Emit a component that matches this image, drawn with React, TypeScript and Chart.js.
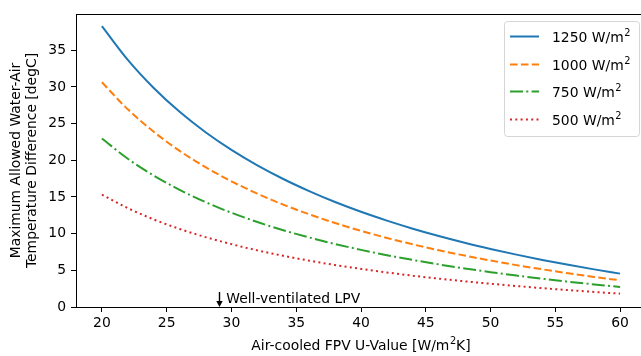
import React, { useEffect, useRef } from 'react';
import { Chart, registerables } from 'chart.js';

Chart.register(...registerables);

// ---------- data ----------
const uValues = [20, 22, 24, 26, 28, 30, 32, 34, 36, 38, 40, 42, 44, 46, 48, 50, 52, 54, 56, 58, 60];
const series1250 = [38.3, 33.69, 29.86, 26.61, 23.83, 21.42, 19.31, 17.45, 15.8, 14.31, 12.98, 11.78, 10.68, 9.68, 8.76, 7.92, 7.14, 6.42, 5.75, 5.13, 4.55];
const series1000 = [30.64, 26.95, 23.89, 21.29, 19.06, 17.14, 15.45, 13.96, 12.64, 11.45, 10.38, 9.42, 8.54, 7.74, 7.01, 6.34, 5.71, 5.14, 4.6, 4.1, 3.64];
const series750 = [22.98, 20.21, 17.92, 15.97, 14.3, 12.85, 11.59, 10.47, 9.48, 8.59, 7.79, 7.07, 6.41, 5.81, 5.26, 4.75, 4.28, 3.85, 3.45, 3.08, 2.73];
const series500 = [15.32, 13.48, 11.94, 10.64, 9.53, 8.57, 7.72, 6.98, 6.32, 5.72, 5.19, 4.71, 4.27, 3.87, 3.5, 3.17, 2.86, 2.57, 2.3, 2.05, 1.82];
const seriesLabels = ['1250 W/m²', '1000 W/m²', '750 W/m²', '500 W/m²'];
const seriesColors = ['#1f77b4', '#ff7f0e', '#2ca02c', '#d62728'];
const seriesDashes: number[][] = [[], [7.6, 3.3], [13, 3.3, 2, 3.3], [2, 3.3]];

const xTickValues = [20, 25, 30, 35, 40, 45, 50, 55, 60];
const yTickValues = [0, 5, 10, 15, 20, 25, 30, 35];
const xRange = [18, 62];
const yRange = [0, 39.95];
const xTitle = 'Air-cooled FPV U-Value [W/m²K]';
const yTitle = ['Maximum Allowed Water-Air', 'Temperature Difference [degC]'];

const annotationLabel = 'Well-ventilated LPV';
const annotationX = 29;
const annotationArrowTop = 2.05;
const annotationTextX = 29.6;
const annotationTextY = 1.05;

const FONT = 'DejaVu Sans';
const FS = 13.9;
const SUP_FS = 9.8;

// draws text where "²" is rendered as a raised smaller "2" (mathtext-like)
function measureRich(ctx: CanvasRenderingContext2D, text: string) {
  const parts = text.split('²');
  let w = 0;
  parts.forEach((p, i) => {
    ctx.font = `${FS}px "${FONT}"`;
    w += ctx.measureText(p).width;
    if (i < parts.length - 1) {
      ctx.font = `${SUP_FS}px "${FONT}"`;
      w += ctx.measureText('2').width + 0.5;
    }
  });
  return w;
}

function drawRich(ctx: CanvasRenderingContext2D, text: string, x: number, yMid: number) {
  const parts = text.split('²');
  let cx = x;
  ctx.textAlign = 'left';
  ctx.textBaseline = 'middle';
  parts.forEach((p, i) => {
    ctx.font = `${FS}px "${FONT}"`;
    ctx.fillText(p, cx, yMid);
    cx += ctx.measureText(p).width;
    if (i < parts.length - 1) {
      ctx.font = `${SUP_FS}px "${FONT}"`;
      ctx.fillText('2', cx + 0.5, yMid - 4.8);
      cx += ctx.measureText('2').width + 0.5;
    }
  });
}

const framePlugin = {
  id: 'frame',
  afterDraw(chart: any) {
    const { ctx, chartArea } = chart;
    ctx.save();
    ctx.strokeStyle = '#000';
    ctx.lineWidth = 1;
    ctx.beginPath();
    const t = Math.round(chartArea.top) + 0.5;
    ctx.moveTo(chartArea.left, t);
    ctx.lineTo(chartArea.right, t);
    ctx.moveTo(Math.round(chartArea.right) + 0.5, chartArea.top);
    ctx.lineTo(Math.round(chartArea.right) + 0.5, chartArea.bottom);
    ctx.stroke();
    // x-axis title with superscript
    ctx.fillStyle = '#000';
    const w = measureRich(ctx, xTitle);
    const cx = (chartArea.left + chartArea.right) / 2;
    drawRich(ctx, xTitle, cx - w / 2, chart.height - 9.5);
    ctx.restore();
  },
};

const annotationPlugin = {
  id: 'annot',
  afterDatasetsDraw(chart: any) {
    const { ctx, scales } = chart;
    const x = Math.round(scales.x.getPixelForValue(annotationX)) + 0.5;
    const yTop = scales.y.getPixelForValue(annotationArrowTop);
    const yBot = scales.y.getPixelForValue(0);
    ctx.save();
    ctx.strokeStyle = '#000';
    ctx.fillStyle = '#000';
    ctx.lineWidth = 1.4;
    ctx.beginPath();
    ctx.moveTo(x, yTop);
    ctx.lineTo(x, yBot - 3);
    ctx.stroke();
    ctx.beginPath();
    ctx.moveTo(x - 3.2, yBot - 6);
    ctx.lineTo(x + 3.2, yBot - 6);
    ctx.lineTo(x, yBot);
    ctx.closePath();
    ctx.fill();
    ctx.font = `${FS}px "${FONT}"`;
    ctx.textAlign = 'left';
    ctx.textBaseline = 'middle';
    ctx.fillText(annotationLabel, scales.x.getPixelForValue(annotationTextX), scales.y.getPixelForValue(annotationTextY));
    ctx.restore();
  },
};

const legendPlugin = {
  id: 'customLegend',
  afterDraw(chart: any) {
    const { ctx, chartArea } = chart;
    const boxW = 135;
    const boxH = 115;
    const right = chartArea.right - 7;
    const left = right - boxW;
    const top = chartArea.top + 7;
    ctx.save();
    ctx.beginPath();
    const r = 3;
    const l = left + 0.5, t = top + 0.5, w = boxW, h = boxH;
    ctx.moveTo(l + r, t);
    ctx.lineTo(l + w - r, t);
    ctx.arcTo(l + w, t, l + w, t + r, r);
    ctx.lineTo(l + w, t + h - r);
    ctx.arcTo(l + w, t + h, l + w - r, t + h, r);
    ctx.lineTo(l + r, t + h);
    ctx.arcTo(l, t + h, l, t + h - r, r);
    ctx.lineTo(l, t + r);
    ctx.arcTo(l, t, l + r, t, r);
    ctx.closePath();
    ctx.fillStyle = 'rgba(255,255,255,0.8)';
    ctx.fill();
    ctx.strokeStyle = '#d5d5d5';
    ctx.lineWidth = 1;
    ctx.stroke();
    const rowOffsets = [15, 42.5, 70, 97.5];
    chart.data.datasets.forEach((ds: any, i: number) => {
      const y = Math.round(top + rowOffsets[i]) + 0.5;
      ctx.beginPath();
      ctx.setLineDash(ds.borderDash || []);
      ctx.strokeStyle = ds.borderColor;
      ctx.lineWidth = ds.borderWidth;
      ctx.moveTo(left + 6, y);
      ctx.lineTo(left + 35, y);
      ctx.stroke();
      ctx.setLineDash([]);
      ctx.fillStyle = '#000';
      drawRich(ctx, ds.label, left + 48, y + 1.5);
    });
    ctx.restore();
  },
};

export default function App() {
  const ref = useRef<HTMLCanvasElement | null>(null);

  useEffect(() => {
    if (!ref.current) return;
    const dataArrays = [series1250, series1000, series750, series500];
    const chart = new Chart(ref.current, {
      type: 'line',
      data: {
        datasets: dataArrays.map((arr, i) => ({
          label: seriesLabels[i],
          data: uValues.map((u, j) => ({ x: u, y: arr[j] })),
          borderColor: seriesColors[i],
          backgroundColor: seriesColors[i],
          borderWidth: 2,
          borderDash: seriesDashes[i],
          borderCapStyle: 'butt',
          pointRadius: 0,
          cubicInterpolationMode: 'monotone',
          fill: false,
        })),
      },
      options: {
        animation: false,
        responsive: false,
        maintainAspectRatio: false,
        devicePixelRatio: 1,
        layout: { padding: { top: 14, right: 14, bottom: 0, left: 0 } },
        plugins: { legend: { display: false }, tooltip: { enabled: false } },
        scales: {
          x: {
            type: 'linear',
            min: xRange[0],
            max: xRange[1],
            afterBuildTicks: (s: any) => {
              s.ticks = xTickValues.map((v) => ({ value: v }));
            },
            afterFit: (s: any) => {
              s.height = 49;
            },
            ticks: { font: { family: FONT, size: FS }, color: '#000', padding: 3, maxRotation: 0, autoSkip: false },
            grid: { drawOnChartArea: false, drawTicks: true, tickLength: 5, tickWidth: 1, tickColor: '#000' },
            border: { display: true, color: '#000', width: 1 },
            title: { display: false },
          },
          y: {
            type: 'linear',
            min: yRange[0],
            max: yRange[1],
            afterBuildTicks: (s: any) => {
              s.ticks = yTickValues.map((v) => ({ value: v }));
            },
            afterFit: (s: any) => {
              s.width = 76;
            },
            ticks: { font: { family: FONT, size: FS }, color: '#000', padding: 5 },
            grid: { drawOnChartArea: false, drawTicks: true, tickLength: 5, tickWidth: 1, tickColor: '#000' },
            border: { display: true, color: '#000', width: 1 },
            title: {
              display: true,
              text: yTitle,
              color: '#000',
              font: { family: FONT, size: FS, lineHeight: '16px' },
              padding: { top: 8.5, bottom: 0 },
            },
          },
        },
      } as any,
      plugins: [framePlugin, annotationPlugin, legendPlugin],
    } as any);
    return () => chart.destroy();
  }, []);

  return (
    <div style={{ position: 'fixed', left: 0, top: 0, width: 641, height: 356, overflow: 'hidden', background: '#fff' }}>
      <canvas ref={ref} width={660} height={356} style={{ display: 'block', width: 660, height: 356 }} />
    </div>
  );
}
